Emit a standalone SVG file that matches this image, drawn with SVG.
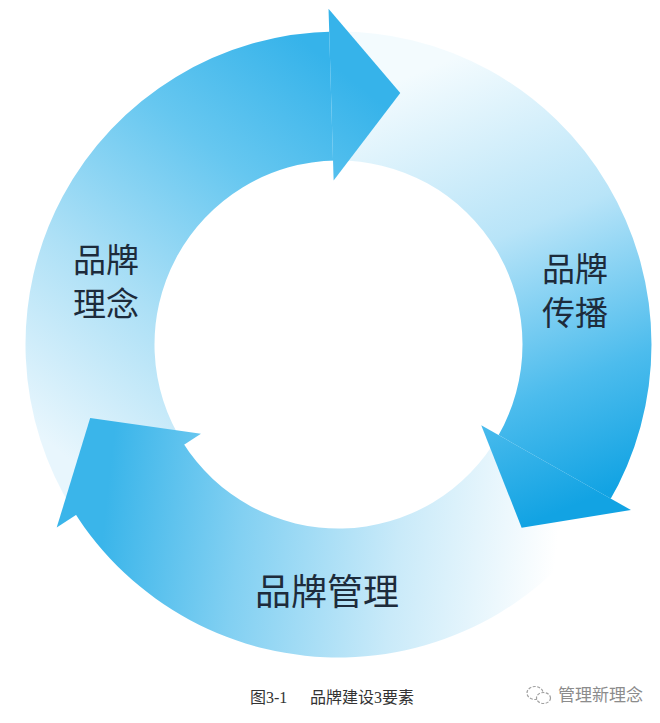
<svg xmlns="http://www.w3.org/2000/svg" width="660" height="723" viewBox="0 0 660 723">
<style>
.lbl{font-family:"Noto Sans CJK SC","Noto Sans CJK JP",sans-serif;fill:#1d2b3b;text-anchor:middle}
.cap{font-family:"Liberation Serif","Noto Sans CJK SC",serif;font-size:16px;fill:#333}
.wm{font-family:"Noto Sans CJK SC",sans-serif;font-size:17px;fill:#8c8c8c}
</style>
<defs>
<linearGradient id="gTop" gradientUnits="userSpaceOnUse" x1="95" y1="480" x2="390" y2="110">
<stop offset="0" stop-color="#e8f6fd"/>
<stop offset="0.35" stop-color="#ade0f6"/>
<stop offset="0.7" stop-color="#66c7f0"/>
<stop offset="1" stop-color="#36b3ea"/>
</linearGradient>
<linearGradient id="gRight" gradientUnits="userSpaceOnUse" x1="400" y1="80" x2="575" y2="505">
<stop offset="0" stop-color="#f3fbfe"/>
<stop offset="0.4" stop-color="#b8e4f8"/>
<stop offset="0.75" stop-color="#4cbced"/>
<stop offset="1" stop-color="#12a3e3"/>
</linearGradient>
<linearGradient id="gBottom" gradientUnits="userSpaceOnUse" x1="560" y1="520" x2="110" y2="470">
<stop offset="0" stop-color="#ffffff"/>
<stop offset="0.35" stop-color="#c9eaf9"/>
<stop offset="0.7" stop-color="#82d0f2"/>
<stop offset="1" stop-color="#3ab5ea"/>
</linearGradient>
</defs>
<rect width="660" height="723" fill="#ffffff"/>
<g id="connectors">
<path id="shaft-concept" fill="url(#gTop)" d="M184.18,444.71 L76,514.97 A313,313 0 0 1 334.68,31.52 L336.25,160.51 A184,184 0 0 0 184.18,444.71 Z"/>
<path id="shaft-spread" fill="url(#gRight)" d="M333.04,160.58 L329.21,31.64 A313,313 0 0 1 608.19,503.36 L497.04,437.89 A184,184 0 0 0 333.04,160.58 Z"/>
<path id="shaft-manage" fill="url(#gBottom)" d="M498.65,435.11 L610.92,498.63 A313,313 0 0 1 73.06,510.36 L182.46,442.01 A184,184 0 0 0 498.65,435.11 Z"/>
<path id="head-concept" fill="url(#gTop)" d="M328.53,8.65 L400.28,92.98 L333.63,180.57 Z"/>
<path id="head-spread" fill="url(#gRight)" d="M630.94,509.95 L521.64,527.64 L481.24,425.26 Z"/>
<path id="head-manage" fill="url(#gBottom)" d="M200.96,433.82 L90.17,418.06 L56.71,527.5 Z"/>
</g>
<g id="node-concept">
<text class="lbl" x="106" y="272" font-size="33">品牌</text>
<text class="lbl" x="106" y="316" font-size="33">理念</text>
</g>
<g id="node-spread">
<text class="lbl" x="575" y="281" font-size="33">品牌</text>
<text class="lbl" x="575" y="325" font-size="33">传播</text>
</g>
<g id="node-manage">
<text class="lbl" x="327" y="605" font-size="36">品牌管理</text>
</g>
<g id="caption">
<text class="cap" x="250" y="703">图3-1</text>
<text class="cap" x="310" y="703">品牌建设3要素</text>
</g>
<g id="watermark">
<ellipse cx="535" cy="693" rx="8" ry="6.5" fill="none" stroke="#a0a0a0" stroke-width="1.2" stroke-dasharray="3 1.5"/>
<ellipse cx="543.5" cy="698" rx="7" ry="5.5" fill="#ffffff" stroke="#a0a0a0" stroke-width="1.2" stroke-dasharray="3 1.5"/>
<text class="wm" x="558" y="701">管理新理念</text>
</g>
</svg>
